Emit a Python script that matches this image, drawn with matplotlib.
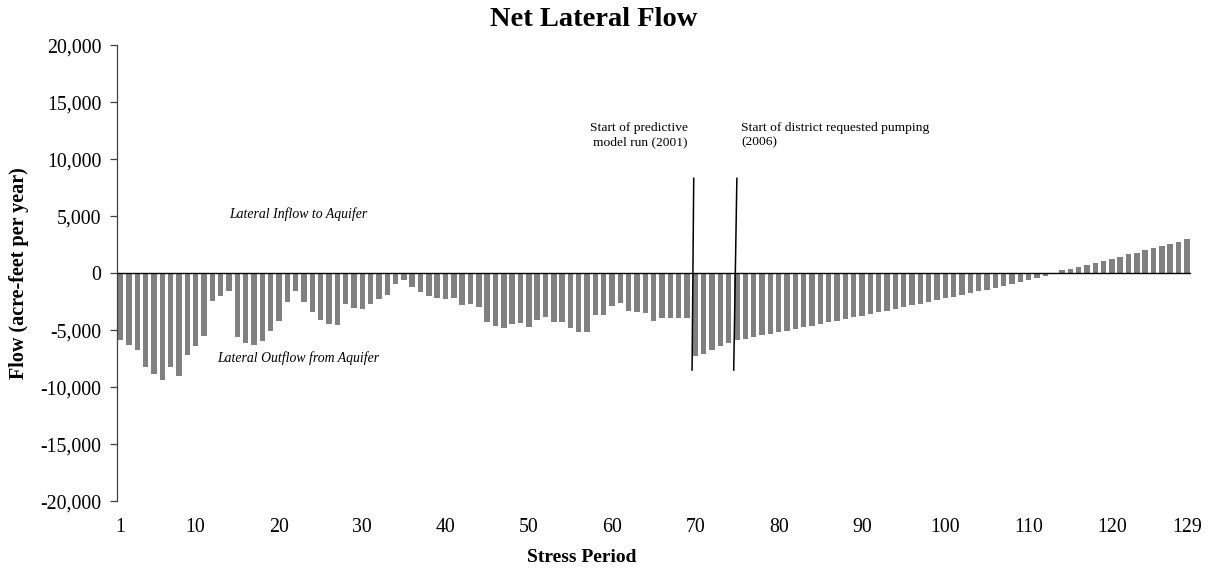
import matplotlib
matplotlib.use("Agg")
import matplotlib.pyplot as plt
from matplotlib.ticker import FuncFormatter, FixedLocator
import numpy as np

# ---- data ----
periods = list(range(1, 130))
net_flow = [
    -5850, -6290, -6730, -8190, -8830, -9360, -8190, -9000, -7160, -6370,
    -5500, -2460, -2020, -1580, -5610, -6140, -6320, -5960, -5090, -4180,
    -2510, -1580, -2510, -3360, -4090, -4440, -4560, -2720, -3010, -3100,
    -2690, -2280, -1930, -965, -585, -1170, -1610, -1990, -2190, -2280,
    -2130, -2780, -2720, -2920, -4270, -4620, -4770, -4470, -4390, -4710,
    -4090, -3860, -4240, -4300, -4770, -5120, -5150, -3680, -3630, -2870,
    -2600, -3300, -3390, -3450, -4180, -3920, -3920, -3950, -3950, -7220,
    -7080, -6700, -6370, -6110, -5850, -5730, -5580, -5440, -5290, -5180,
    -5030, -4880, -4740, -4590, -4440, -4300, -4150, -4010, -3860, -3710,
    -3570, -3420, -3270, -3130, -2950, -2810, -2660, -2510, -2370, -2200,
    -2050, -1930, -1730, -1580, -1430, -1260, -1080, -910, -760, -610,
    -440, -230, -90, 260, 410, 580, 760, 940, 1080, 1260,
    1460, 1670, 1810, 2050, 2220, 2400, 2600, 2780, 2980,
]
x_ticks = [1, 10, 20, 30, 40, 50, 60, 70, 80, 90, 100, 110, 120, 129]
y_ticks = [-20000, -15000, -10000, -5000, 0, 5000, 10000, 15000, 20000]

title = "Net Lateral Flow"
x_label = "Stress Period"
y_label = "Flow (acre-feet per year)"

SERIF = ["Liberation Serif", "DejaVu Serif"]
plt.rcParams["font.family"] = SERIF

W, H = 1211, 571
fig = plt.figure(figsize=(W / 100, H / 100), dpi=100)
left, right, top, bottom = 116.5, 1191.0, 45.3, 501.3
ax = fig.add_axes([left / W, 1 - bottom / H, (right - left) / W, (bottom - top) / H])

ax.bar(periods, net_flow, width=0.65, color="#808080", edgecolor="none", zorder=2)
ax.axhline(0, color="black", lw=1.0, zorder=3)

ax.set_xlim(0.5, 129.5)
ax.set_ylim(-20000, 20000)

for s in ["top", "right", "bottom"]:
    ax.spines[s].set_visible(False)
ax.spines["left"].set_color("#404040")
ax.spines["left"].set_linewidth(0.9)

ax.yaxis.set_major_locator(FixedLocator(y_ticks))
ax.yaxis.set_major_formatter(FuncFormatter(lambda v, p: f"{int(v):,}"))
ax.xaxis.set_major_locator(FixedLocator(x_ticks))
ax.tick_params(axis="y", length=5, width=0.9, color="#404040", pad=6, labelsize=14.3)
ax.tick_params(axis="x", length=0, pad=12, labelsize=14.3)

# annotation lines
ax.plot([69.8, 69.6], [8330, -8480], color="black", lw=1.1, zorder=4)
ax.plot([74.98, 74.6], [8330, -8480], color="black", lw=1.1, zorder=4)

fig.text(687.7 / W, 1 - 135 / H, "Start of predictive\nmodel run (2001)", ha="right",
         va="center", fontsize=9.7, linespacing=1.25)
fig.text(741 / W, 1 - 135 / H, "Start of district requested pumping\n(2006)", ha="left",
         va="center", fontsize=9.7, linespacing=1.25)
fig.text(298 / W, 1 - 214.5 / H, "Lateral Inflow to Aquifer", ha="center", va="center",
         fontsize=9.9, style="italic")
fig.text(298.7 / W, 1 - 358.5 / H, "Lateral Outflow from Aquifer", ha="center", va="center",
         fontsize=9.9, style="italic")

fig.text(593.5 / W, 1 - 19 / H, title, ha="center", va="center", fontsize=20.5,
         fontweight="bold")
fig.text(581.7 / W, 1 - 557.8 / H, x_label, ha="center", va="center", fontsize=14,
         fontweight="bold")
fig.text(19 / W, 1 - 273 / H, y_label, ha="center", va="center", rotation=90,
         fontsize=14.5, fontweight="bold")

fig.savefig("out.png", dpi=100)
